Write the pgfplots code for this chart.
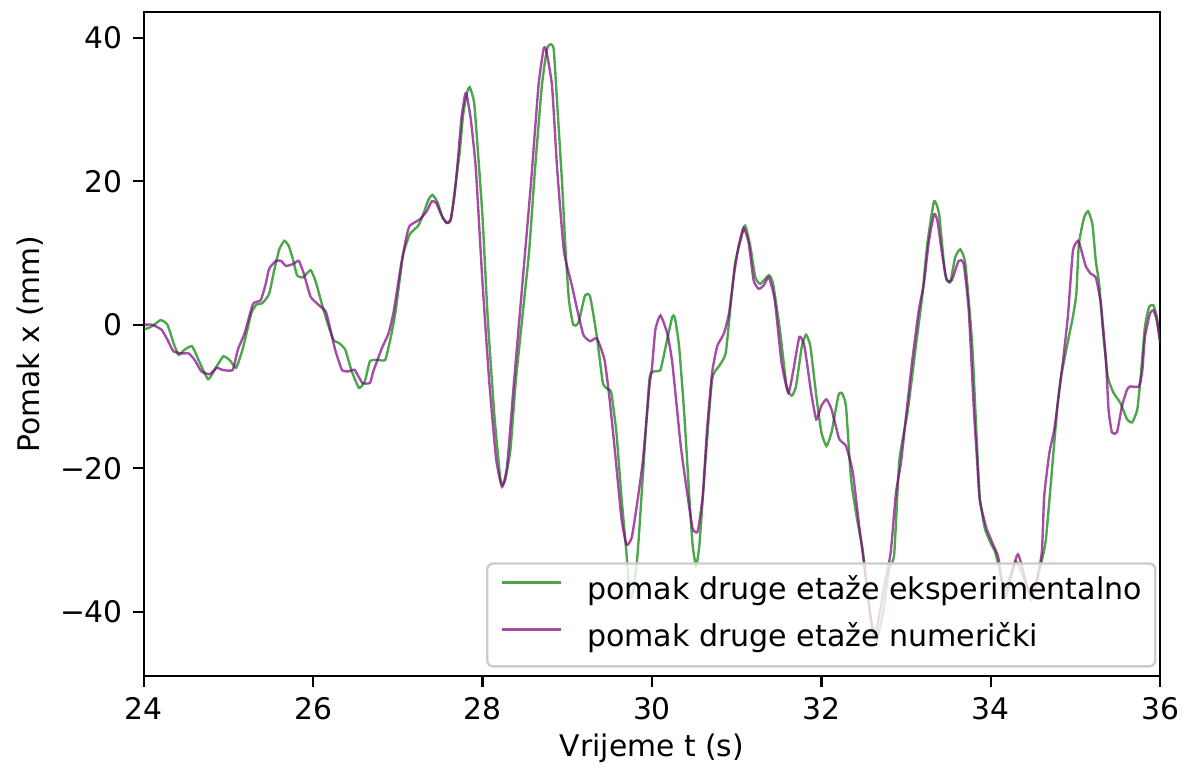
\documentclass[border=0pt]{standalone}
\usepackage{fontspec}
\setmainfont{DejaVu Sans}
\usepackage{pgfplots}
\pgfplotsset{compat=1.18}

\definecolor{expgreen}{RGB}{0,128,0}
\definecolor{numpurple}{RGB}{128,0,128}
\definecolor{legframe}{RGB}{204,204,204}

\begin{document}
\begin{tikzpicture}
\begin{axis}[
  name=ax,
  scale only axis,
  width=341.67pt, height=223.33pt,
  xmin=24, xmax=36, ymin=-49, ymax=43.6,
  xtick={24,26,28,30,32,34,36},
  xticklabels={24,26,28,30,32,34,36},
  ytick={-40,-20,0,20,40},
  yticklabels={−40,−20,0,20,40},
  tick pos=left, tick align=outside,
  major tick length=3.5pt,
  every tick/.style={black, line width=0.8pt},
  axis line style={black, line width=0.8pt},
  /pgf/number format/assume math mode=true,
  tick label style={font=\fontsize{10}{12}\selectfont},
  label style={font=\fontsize{10}{12}\selectfont},
  xlabel={Vrijeme t (s)},
  ylabel={Pomak x (mm)},
  every axis x label/.style={at={(axis description cs:0.5,-0.109)}, anchor=center},
  every axis y label/.style={at={(axis description cs:-0.112,0.5)}, rotate=90, anchor=center},
  legend cell align=left,
  legend style={at={(axis description cs:0.9952,0.0149)}, anchor=south east,
    outer sep=0pt,
    draw=legframe, line width=0.8pt, fill=white, fill opacity=0.8,
    draw opacity=1, text opacity=1, rounded corners=2pt,
    inner xsep=4.5pt, inner ysep=4.7pt, row sep=6.2pt, column sep=8.3pt,
    nodes={inner sep=0pt, outer sep=0pt, text height=7.5pt, text depth=2pt},
    font=\fontsize{10.1}{12}\selectfont},
  legend image code/.code={\draw[#1, line width=0.8pt] (0pt,0.3em) -- (20pt,0.3em);},
]
% pomak druge etaze, eksperimentalno
\addplot[expgreen, opacity=0.7, line width=0.8pt, smooth, tension=0.3] coordinates {
(24.00,-0.7) (24.10,-0.2) (24.20,0.65) (24.28,0.0) (24.35,-2.5) (24.41,-4.2)
(24.48,-3.5) (24.57,-3.0) (24.65,-5.0) (24.76,-7.6) (24.85,-6.0) (24.94,-4.4)
(25.02,-5.0) (25.09,-6.0) (25.17,-3.3) (25.27,1.6) (25.33,2.8) (25.40,3.0)
(25.48,4.3) (25.54,7.6) (25.60,10.5) (25.66,11.7) (25.71,11.0) (25.76,9.2)
(25.81,6.9) (25.88,6.6) (25.97,7.6) (26.03,6.0) (26.10,3.0) (26.17,0.2)
(26.24,-2.1) (26.31,-2.6) (26.38,-3.5) (26.45,-6.3) (26.54,-8.8) (26.61,-7.9)
(26.67,-5.1) (26.76,-4.9) (26.85,-4.9) (26.91,-2.1) (26.97,1.6) (27.06,9.6)
(27.14,12.6) (27.24,13.8) (27.30,15.4) (27.36,17.4) (27.41,18.1) (27.47,17.0)
(27.53,14.9) (27.59,14.2) (27.63,14.9) (27.67,18.6) (27.73,24.1) (27.77,29.2)
(27.82,32.5) (27.85,33.1) (27.90,31.0) (27.94,25.0) (28.00,14.9) (28.06,1.1)
(28.14,-12.7) (28.21,-21.5) (28.24,-22.3) (28.27,-21.5) (28.33,-17.3) (28.39,-8.1)
(28.47,1.1) (28.55,10.3) (28.62,21.8) (28.70,33.3) (28.76,38.4) (28.80,39.1)
(28.84,38.4) (28.88,31.0) (28.94,19.5) (28.98,10.3) (29.02,3.4) (29.07,0.0)
(29.13,0.2) (29.21,4.1) (29.27,3.9) (29.35,-1.7) (29.42,-8.1) (29.48,-9.0)
(29.52,-9.5) (29.58,-15.0) (29.64,-24.0) (29.70,-32.0) (29.74,-38.0) (29.78,-37.0)
(29.83,-32.0) (29.89,-21.5) (29.97,-7.6) (30.03,-6.5) (30.10,-6.3) (30.17,-2.6)
(30.24,1.1) (30.27,1.0) (30.32,-3.0) (30.38,-12.2) (30.44,-23.8) (30.48,-30.7)
(30.52,-33.6) (30.56,-30.7) (30.63,-19.2) (30.71,-7.6) (30.79,-5.8) (30.87,-4.0)
(30.93,2.9) (30.98,8.5) (31.04,11.5) (31.10,13.8) (31.16,11.0) (31.22,6.6)
(31.28,5.7) (31.38,6.9) (31.43,5.7) (31.51,-0.7) (31.59,-8.6) (31.65,-9.9)
(31.70,-8.6) (31.77,-3.0) (31.82,-1.4) (31.87,-3.0) (31.94,-9.9) (32.00,-15.0)
(32.06,-16.9) (32.12,-15.0) (32.20,-9.9) (32.24,-9.5) (32.29,-11.3) (32.35,-21.5)
(32.42,-27.0) (32.49,-31.6) (32.57,-40.0) (32.65,-44.0) (32.73,-40.0) (32.80,-34.0)
(32.86,-32.0) (32.92,-19.0) (33.02,-12.0) (33.11,-3.5) (33.19,3.9) (33.25,11.2)
(33.33,17.2) (33.39,15.4) (33.46,7.1) (33.52,5.9) (33.58,9.4) (33.64,10.5)
(33.70,8.5) (33.78,-2.6) (33.83,-15.0) (33.87,-24.0) (33.93,-28.4) (34.01,-30.7)
(34.05,-31.6) (34.10,-34.0) (34.16,-37.0) (34.23,-35.0) (34.30,-33.0) (34.38,-35.0)
(34.45,-37.0) (34.53,-36.0) (34.60,-33.0) (34.65,-30.0) (34.71,-22.0) (34.75,-16.4)
(34.79,-11.0) (34.83,-7.2) (34.93,-1.2) (34.97,1.1) (35.01,4.3) (35.04,11.2)
(35.10,14.9) (35.15,15.8) (35.20,14.0) (35.24,8.9) (35.28,5.7) (35.32,-0.3)
(35.38,-7.2) (35.45,-9.5) (35.53,-10.9) (35.61,-13.2) (35.67,-13.6) (35.73,-11.8)
(35.77,-7.2) (35.82,-0.3) (35.87,2.5) (35.92,2.7) (35.96,1.1) (36.00,-2.5)
};
\addlegendentry{pomak druge etaže eksperimentalno}
% pomak druge etaze, numericki
\addplot[numpurple, opacity=0.7, line width=0.8pt, smooth, tension=0.3] coordinates {
(24.00,0.0) (24.10,0.0) (24.21,-0.7) (24.28,-2.1) (24.35,-3.7) (24.45,-4.0)
(24.53,-4.0) (24.60,-4.9) (24.68,-6.5) (24.78,-6.9) (24.86,-6.0) (24.93,-6.3)
(25.05,-6.3) (25.11,-3.5) (25.19,-1.2) (25.29,2.9) (25.38,3.4) (25.44,5.7)
(25.48,7.8) (25.56,8.9) (25.62,8.9) (25.68,8.2) (25.77,8.5) (25.83,8.9)
(25.89,7.1) (25.97,3.9) (26.07,2.7) (26.15,1.8) (26.20,-0.5) (26.26,-3.5)
(26.34,-6.3) (26.42,-6.5) (26.49,-6.3) (26.58,-8.1) (26.67,-8.1) (26.71,-6.5)
(26.81,-3.3) (26.89,-1.2) (26.95,1.8) (27.04,8.5) (27.10,12.2) (27.14,13.8)
(27.26,14.7) (27.34,15.8) (27.40,17.2) (27.45,17.0) (27.51,15.4) (27.57,14.2)
(27.62,14.5) (27.67,18.1) (27.71,23.2) (27.75,28.7) (27.79,31.9) (27.81,32.2)
(27.86,28.7) (27.92,21.8) (28.00,5.7) (28.08,-8.1) (28.16,-18.7) (28.23,-22.6)
(28.29,-19.6) (28.37,-8.1) (28.47,5.7) (28.57,19.5) (28.66,33.3) (28.72,38.4)
(28.75,38.3) (28.82,33.3) (28.88,21.8) (28.96,10.3) (29.05,5.7) (29.11,2.5)
(29.19,-1.4) (29.27,-2.3) (29.35,-1.9) (29.44,-4.9) (29.50,-10.4) (29.56,-17.3)
(29.64,-27.0) (29.70,-30.7) (29.76,-29.7) (29.81,-26.1) (29.89,-19.2) (29.97,-8.6)
(30.00,-6.0) (30.04,-0.7) (30.10,1.3) (30.18,-1.2) (30.24,-5.3) (30.34,-16.9)
(30.42,-23.8) (30.48,-28.4) (30.54,-28.8) (30.60,-23.8) (30.65,-14.6) (30.71,-6.7)
(30.77,-3.0) (30.85,-1.2) (30.91,1.6) (30.97,7.1) (31.02,10.8) (31.08,13.5)
(31.14,11.5) (31.20,6.2) (31.26,5.0) (31.32,5.5) (31.38,6.6) (31.45,3.4)
(31.53,-5.3) (31.61,-9.5) (31.67,-6.3) (31.74,-1.7) (31.80,-3.0) (31.88,-9.5)
(31.94,-13.2) (32.00,-11.3) (32.06,-10.4) (32.12,-11.8) (32.21,-15.9) (32.29,-16.9)
(32.37,-20.5) (32.45,-28.4) (32.49,-32.0) (32.62,-43.5) (32.75,-36.0) (32.82,-31.6)
(32.88,-23.5) (32.94,-19.2) (33.00,-12.7) (33.07,-5.3) (33.15,2.0) (33.21,5.7)
(33.27,11.7) (33.33,15.4) (33.37,14.5) (33.42,10.3) (33.48,6.2) (33.54,6.2)
(33.62,8.9) (33.68,8.5) (33.74,2.0) (33.80,-11.8) (33.84,-19.2) (33.87,-24.5)
(33.95,-28.4) (34.03,-30.7) (34.09,-32.5) (34.17,-38.0) (34.32,-32.0) (34.48,-38.3)
(34.60,-32.0) (34.63,-24.0) (34.69,-18.0) (34.75,-14.6) (34.79,-11.0) (34.85,-5.3)
(34.91,1.1) (34.97,10.3) (35.03,11.7) (35.06,10.8) (35.12,8.2) (35.18,7.1)
(35.24,6.6) (35.30,2.9) (35.36,-4.9) (35.39,-11.8) (35.43,-15.0) (35.49,-15.0)
(35.55,-11.3) (35.61,-9.0) (35.65,-8.6) (35.75,-8.6) (35.79,-6.3) (35.82,-1.7)
(35.88,1.6) (35.92,2.0) (35.96,0.6) (36.00,-2.5)
};
\addlegendentry{pomak druge etaže numerički}
\end{axis}
\path ([shift={(-48.33pt,-32pt)}]ax.south west) rectangle ([shift={(6.33pt,4pt)}]ax.north east);
\end{tikzpicture}
\end{document}
